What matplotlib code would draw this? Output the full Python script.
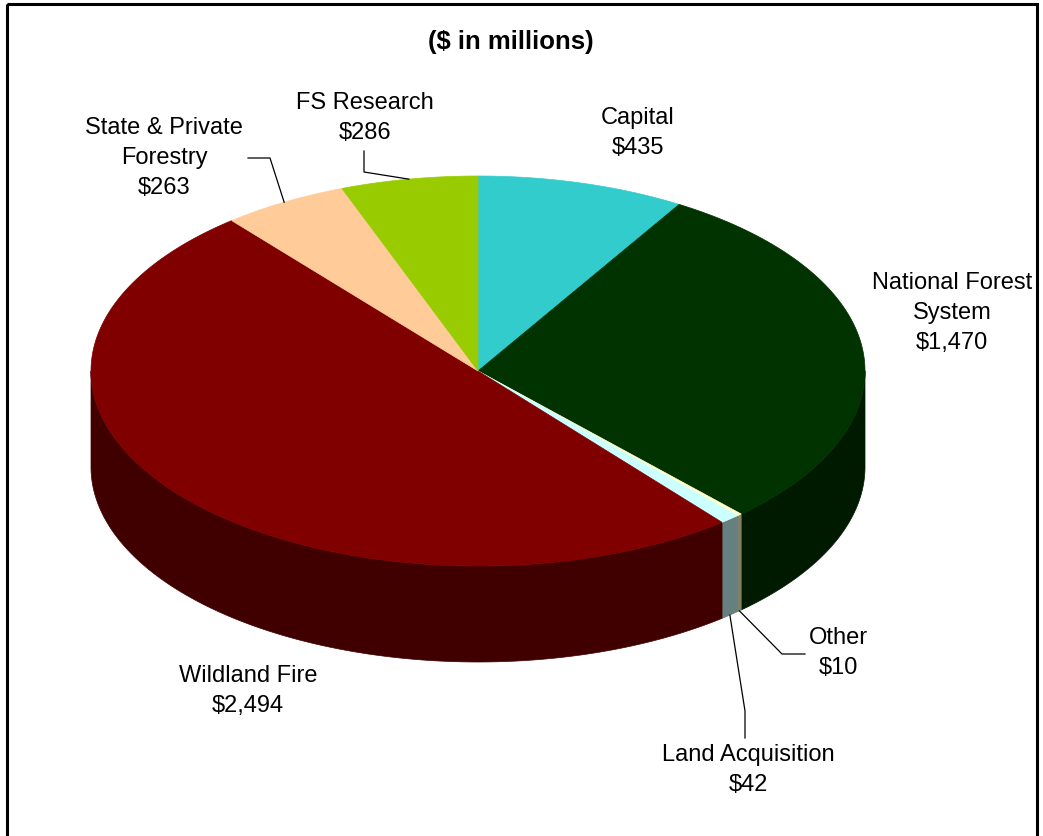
import numpy as np
import matplotlib.pyplot as plt
from matplotlib.patches import Polygon, Rectangle

plt.rcParams['font.family'] = ['Liberation Sans', 'DejaVu Sans']

# data (in $ millions), clockwise from 12 o'clock
names = ["Capital", "National Forest\nSystem", "Other", "Land Acquisition",
         "Wildland Fire", "State & Private\nForestry", "FS Research"]
values = [435, 1470, 10, 42, 2494, 263, 286]
colors = ["#33CCCC", "#003300", "#FFFFCC", "#CCFFFF", "#800000", "#FFCC99", "#99CC00"]

# label block centres and leader line elbows (pixels, y down)
label_pos = [(638, 133), (952, 313), (838, 653), (748, 770), (248, 691), (164, 158), (365, 118)]
leaders = {
    2: [(782, 655), (805, 655)],
    3: [(745, 712), (745, 739)],
    5: [(270, 159), (248, 159)],
    6: [(364, 173), (364, 152)],
}

W, H = 1043, 837
cx, cy = 478, 372      # centre of top face
a, b = 387, 195        # ellipse semi axes
depth = 96


def shade(c, f=0.5):
    r, g, bb = [int(c[i:i + 2], 16) / 255 for i in (1, 3, 5)]
    return (r * f, g * f, bb * f)


def edge(theta, dz=0):
    t = np.radians(theta)
    return cx + a * np.sin(t), cy - b * np.cos(t) + dz


fig = plt.figure(figsize=(W / 100, H / 100), dpi=100)
ax = fig.add_axes([0, 0, 1, 1])
ax.set_xlim(0, W)
ax.set_ylim(H, 0)
ax.axis("off")

frac = np.array(values) / sum(values) * 360
ends = np.cumsum(frac)
starts = ends - frac

# side walls (front half only)
for t0, t1, c in zip(starts, ends, colors):
    lo, hi = max(t0, 90), min(t1, 270)
    if hi <= lo:
        continue
    th = np.linspace(lo, hi, 200)
    xt, yt = edge(th)
    xb, yb = edge(th, depth)
    pts = np.column_stack([np.r_[xt, xb[::-1]], np.r_[yt, yb[::-1]]])
    ax.add_patch(Polygon(pts, closed=True, fc=shade(c), ec=shade(c), lw=0.5))

# top face
for t0, t1, c in zip(starts, ends, colors):
    th = np.linspace(t0, t1, max(int((t1 - t0) * 4), 3))
    xt, yt = edge(th)
    pts = np.column_stack([np.r_[cx, xt], np.r_[cy, yt]])
    ax.add_patch(Polygon(pts, closed=True, fc=c, ec=c, lw=0.5))

# labels
for i, (nm, v) in enumerate(zip(names, values)):
    x, y = label_pos[i]
    ax.text(x, y, f"{nm}\n${v:,}", ha="center", va="center", fontsize=17,
            linespacing=1.45, color="black")

# leader lines
for i, pts in leaders.items():
    mid = (starts[i] + ends[i]) / 2
    dz = depth if 90 <= mid <= 270 else 0
    x0, y0 = edge(mid, dz)
    xs = [x0] + [p[0] for p in pts]
    ys = [y0] + [p[1] for p in pts]
    ax.plot(xs, ys, color="black", lw=0.9)

ax.text(511, 42, "($ in millions)", ha="center", va="center", fontsize=18.5,
        fontweight="bold")

# chart frame
ax.add_patch(Rectangle((7, 5), 1030, 860, fill=False, ec="black", lw=2.2))

fig.savefig("out.png", dpi=100)
